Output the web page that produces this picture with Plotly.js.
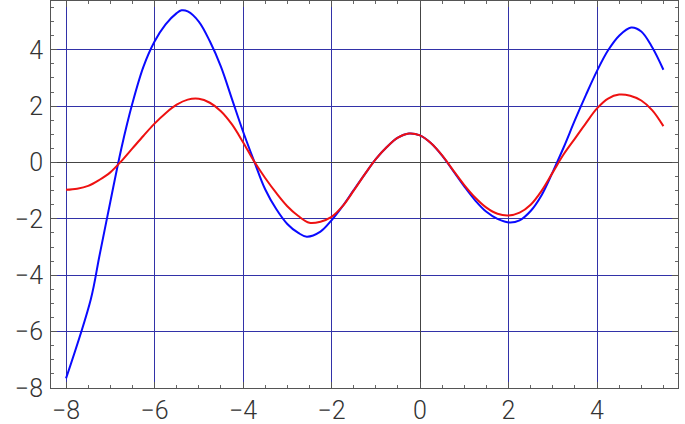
<!DOCTYPE html>
<html><head><meta charset="utf-8">
<script src="https://cdn.plot.ly/plotly-3.0.1.min.js"></script>
<style>html,body{margin:0;padding:0;background:#fff}#chart{width:685px;height:424px}</style>
</head><body><div id="chart"></div>
<script>
// Red curve (function)
const redX = [-8,-7.75,-7.5,-7.25,-7,-6.75,-6.5,-6.25,-6,-5.75,-5.5,-5.25,-5,-4.75,-4.5,-4.25,-4,-3.75,-3.5,-3.25,-3,-2.75,-2.5,-2.25,-2,-1.75,-1.5,-1.25,-1,-0.75,-0.5,-0.25,0,0.25,0.5,0.75,1,1.25,1.5,1.75,2,2.25,2.5,2.75,3,3.25,3.5,3.75,4,4.25,4.5,4.75,5,5.25,5.5];
const redY = [-0.97,-0.93,-0.83,-0.62,-0.35,0.05,0.5,0.95,1.38,1.75,2.05,2.23,2.26,2.12,1.82,1.35,0.72,0.04,-0.55,-1.08,-1.55,-1.9,-2.14,-2.1,-1.93,-1.55,-1.0,-0.42,0.12,0.55,0.88,1.03,0.96,0.68,0.25,-0.28,-0.8,-1.25,-1.6,-1.82,-1.88,-1.78,-1.5,-1.0,-0.35,0.3,0.85,1.4,1.92,2.27,2.41,2.37,2.2,1.85,1.29];
// Blue curve (approximation)
const blueX = [-8,-7.44,-7.25,-7,-6.75,-6.5,-6.25,-6,-5.75,-5.5,-5.39,-5.25,-5,-4.75,-4.5,-4.25,-4,-3.75,-3.5,-3.25,-3,-2.75,-2.56,-2.25,-2,-1.75,-1.5,-1.25,-1,-0.75,-0.5,-0.25,0,0.25,0.5,0.75,1,1.25,1.5,1.75,2.03,2.25,2.5,2.75,3,3.25,3.5,3.75,4,4.25,4.5,4.77,5,5.25,5.5];
const blueY = [-7.66,-4.85,-3.35,-1.4,0.5,2.1,3.4,4.29,4.9,5.3,5.40,5.36,5.0,4.3,3.4,2.25,1.1,0.05,-0.95,-1.65,-2.18,-2.5,-2.63,-2.45,-2.05,-1.55,-0.98,-0.42,0.12,0.55,0.88,1.03,0.96,0.68,0.24,-0.3,-0.85,-1.35,-1.75,-2.0,-2.13,-2.05,-1.72,-1.15,-0.33,0.55,1.5,2.4,3.25,3.98,4.5,4.79,4.65,4.08,3.29];

const xTicks = [-8,-6,-4,-2,0,2,4];
const yTicks = [-8,-6,-4,-2,0,2,4];
const fmt = v => v < 0 ? '\u2212' + Math.abs(v) : String(v);

const axisCommon = {
  showline: true, linecolor: '#555', linewidth: 1, mirror: 'allticks',
  ticks: 'inside', ticklen: 6, tickwidth: 1, tickcolor: '#555',
  showgrid: true, gridcolor: '#3232a8', gridwidth: 1,
  zeroline: true, zerolinecolor: '#444', zerolinewidth: 1,
  tickfont: {family: 'Roboto, Lato, Arial, sans-serif', size: 25, weight: 300, color: '#333'},
  minor: {dtick: 0.5, ticks: 'inside', ticklen: 3, tickcolor: '#666', showgrid: false},
  tickmode: 'array'
};

const data = [
  {x: blueX, y: blueY, type: 'scatter', mode: 'lines', line: {color: '#0a0aff', width: 2, shape: 'spline', smoothing: 1}, hoverinfo: 'none'},
  {x: redX, y: redY, type: 'scatter', mode: 'lines', line: {color: '#ee1111', width: 2, shape: 'spline', smoothing: 1}, hoverinfo: 'none'}
];

const layout = {
  width: 685, height: 424,
  margin: {l: 51, r: 7, t: 1, b: 36},
  paper_bgcolor: '#fff', plot_bgcolor: '#fff',
  showlegend: false,
  xaxis: Object.assign({}, axisCommon, {range: [-8.34, 5.83], tickvals: xTicks, ticktext: xTicks.map(fmt), ticklabelstandoff: 0}),
  yaxis: Object.assign({}, axisCommon, {range: [-8.0, 5.73], tickvals: yTicks, ticktext: yTicks.map(fmt), ticklabelstandoff: 2})
};

Plotly.newPlot('chart', data, layout, {staticPlot: true, displayModeBar: false});
</script>
</body></html>
